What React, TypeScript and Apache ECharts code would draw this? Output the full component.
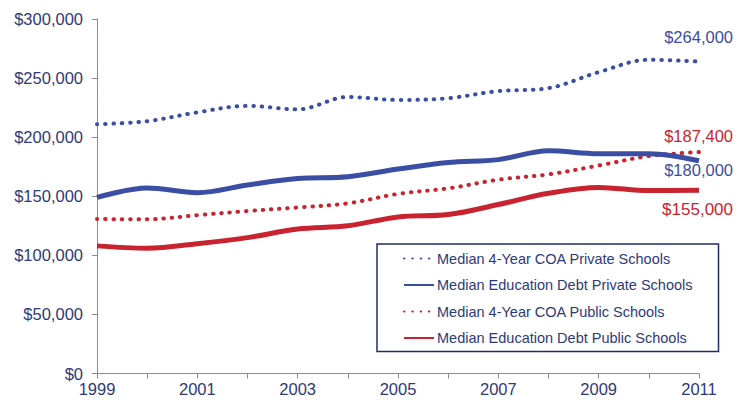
import React, { useEffect, useRef } from "react";
import * as echarts from "echarts";

const years = ["1999","2000","2001","2002","2003","2004","2005","2006","2007","2008","2009","2010","2011"];
const coaPrivate = [211000, 213500, 221000, 226500, 223500, 234000, 231500, 233000, 239000, 241500, 255000, 265500, 264000];
const debtPrivate = [149000, 157000, 153000, 159500, 165000, 166500, 173000, 178500, 181000, 188500, 186000, 186000, 180000];
const coaPublic = [130700, 130500, 134000, 137500, 140500, 144000, 152000, 156700, 164000, 168500, 176000, 184000, 187400];
const debtPublic = [108000, 106000, 109800, 115000, 122300, 125000, 132500, 134500, 143000, 152500, 157500, 154800, 155000];
const seriesNames = [
  "Median 4-Year COA Private Schools",
  "Median Education Debt Private Schools",
  "Median 4-Year COA Public Schools",
  "Median Education Debt Public Schools",
];
const endLabels = ["$264,000", "$180,000", "$187,400", "$155,000"];

const BLUE = "#3A4EA4";
const RED = "#C8232F";
const NAVY = "#2E3A78";

export default function App() {
  const ref = useRef<HTMLDivElement>(null);
  useEffect(() => {
    if (!ref.current) return;
    document.body.style.margin = "0";
    const chart = echarts.init(ref.current, undefined, { renderer: "svg" });
    const font = "Liberation Sans, Arial, sans-serif";
    const dotted = (color: string) => ({ color, width: 4, type: [0.5, 7.8] as any, cap: "round" as const });
    const solid = (color: string) => ({ color, width: 5, type: "solid" as const });
    const datasets = [coaPrivate, debtPrivate, coaPublic, debtPublic];
    const colors = [BLUE, BLUE, RED, RED];
    const styles = [dotted(BLUE), solid(BLUE), dotted(RED), solid(RED)];
    chart.setOption({
      animation: false,
      textStyle: { fontFamily: font },
      grid: { left: 97, right: 44, top: 19, bottom: 28.5, containLabel: false },
      xAxis: {
        type: "category",
        data: years,
        boundaryGap: false,
        axisLine: { lineStyle: { color: "#8C8C99", width: 1 } },
        axisTick: { show: true, interval: 0, length: 5, lineStyle: { color: "#8C8C99" } },
        axisLabel: { interval: 1, color: NAVY, fontSize: 16.5, margin: 7, fontFamily: font },
        splitLine: { show: false },
      },
      yAxis: {
        type: "value",
        min: 0,
        max: 300000,
        interval: 50000,
        axisLine: { show: true, lineStyle: { color: "#8C8C99", width: 1 } },
        axisTick: { show: true, length: 5, lineStyle: { color: "#8C8C99" } },
        axisLabel: {
          color: NAVY,
          fontSize: 16.5,
          margin: 14,
          fontFamily: font,
          formatter: (v: number) => "$" + v.toLocaleString("en-US"),
        },
        splitLine: { show: false },
      },
      legend: {
        orient: "vertical",
        left: 377,
        top: 244,
        padding: [7, 26, 6, 26],
        itemWidth: 30,
        itemHeight: 14,
        itemGap: 11.5,
        borderColor: "#1F2D66",
        borderWidth: 1.5,
        itemStyle: { opacity: 0 },
        textStyle: { color: NAVY, fontSize: 14.5, fontFamily: font, padding: [0, 0, 0, -2] },
        data: seriesNames,
      },
      series: datasets.map((d, i) => ({
        name: seriesNames[i],
        type: "line",
        data: d,
        smooth: 0.35,
        showSymbol: false,
        symbol: "none",
        color: colors[i],
        lineStyle: styles[i],
        itemStyle: { color: colors[i] },
        z: 4 - i,
      })),
      graphic: [
        { type: "text", right: 10, top: 28, style: { text: endLabels[0], fill: BLUE, fontSize: 16.5, fontFamily: font } },
        { type: "text", right: 10, top: 127, style: { text: endLabels[2], fill: RED, fontSize: 16.5, fontFamily: font } },
        { type: "text", right: 10, top: 161, style: { text: endLabels[1], fill: BLUE, fontSize: 16.5, fontFamily: font } },
        { type: "text", right: 10, top: 201, style: { text: endLabels[3], fill: RED, fontSize: 17, fontFamily: font } },
      ],
    });
    return () => chart.dispose();
  }, []);
  return <div ref={ref} style={{ width: 743, height: 402 }} />;
}
